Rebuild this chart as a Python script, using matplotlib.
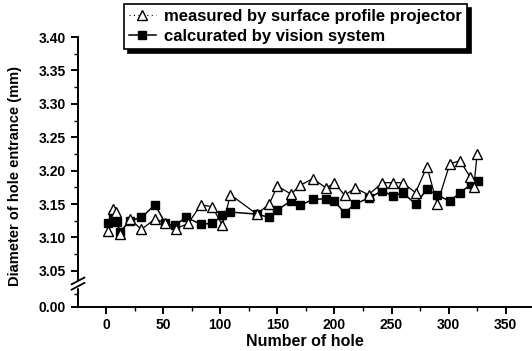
import matplotlib
matplotlib.use("Agg")
import matplotlib.pyplot as plt
from matplotlib.ticker import MultipleLocator, FixedLocator
from matplotlib.lines import Line2D

# Hole diameters measured with the surface profile projector
measured_x = [2, 6, 9, 12, 21, 31, 43, 52, 61, 72, 83, 93, 102, 109, 132,
              143, 150, 162, 170, 181, 193, 200, 209, 218, 230, 242, 251,
              260, 271, 281, 290, 301, 310, 319, 322, 325]
measured_y = [3.110, 3.143, 3.138, 3.105, 3.128, 3.112, 3.128, 3.121, 3.113,
              3.121, 3.149, 3.146, 3.118, 3.164, 3.135, 3.150, 3.177, 3.165,
              3.178, 3.188, 3.174, 3.182, 3.163, 3.174, 3.164, 3.182, 3.182,
              3.182, 3.167, 3.206, 3.150, 3.210, 3.215, 3.190, 3.175, 3.225]

# Hole diameters calculated by the vision system
calc_x = [2, 6, 10, 12, 21, 31, 43, 52, 60, 70, 83, 93, 102, 109, 132,
          143, 150, 162, 170, 181, 193, 200, 209, 218, 230, 242, 251,
          260, 271, 281, 290, 301, 310, 320, 326]
calc_y = [3.121, 3.133, 3.123, 3.108, 3.125, 3.130, 3.149, 3.121, 3.118,
          3.130, 3.120, 3.121, 3.133, 3.138, 3.135, 3.130, 3.141, 3.155,
          3.148, 3.157, 3.158, 3.154, 3.137, 3.150, 3.159, 3.170, 3.162,
          3.167, 3.150, 3.172, 3.164, 3.154, 3.167, 3.180, 3.184]

x_major = [0, 50, 100, 150, 200, 250, 300, 350]
y_major = [3.05, 3.10, 3.15, 3.20, 3.25, 3.30, 3.35, 3.40]
y_zero_pos = 2.996  # position on the broken axis where 0.00 is shown

plt.rcParams['font.family'] = ['Liberation Sans', 'DejaVu Sans']
plt.rcParams['font.weight'] = 'bold'

fig = plt.figure(figsize=(5.32, 3.51), dpi=100)
ax = fig.add_axes([78 / 532, 1 - 307 / 351, 1 - 78 / 532, (307 - 37) / 351])

ax.plot(measured_x, measured_y, color='black', lw=0.9, marker='^',
        markersize=6.5, markerfacecolor='white', markeredgecolor='black',
        markeredgewidth=1.0, zorder=3)
ax.plot(calc_x, calc_y, color='black', lw=1.1, marker='s',
        markersize=5.5, markerfacecolor='black', markeredgecolor='black',
        zorder=2)

ax.set_xlim(-24.5, 373)
ax.set_ylim(y_zero_pos, 3.40)

for s in ('top', 'right'):
    ax.spines[s].set_visible(False)
for s in ('left', 'bottom'):
    ax.spines[s].set_linewidth(1.4)

ax.xaxis.set_major_locator(FixedLocator(x_major))
ax.xaxis.set_minor_locator(MultipleLocator(25))
ax.set_xticklabels([str(v) for v in x_major])

ax.yaxis.set_major_locator(FixedLocator([y_zero_pos] + y_major))
ax.yaxis.set_minor_locator(FixedLocator([3.016] + [v + 0.025 for v in y_major[:-1]]))
ax.set_yticklabels(['0.00'] + [f'{v:.2f}' for v in y_major])

ax.tick_params(axis='both', which='major', direction='out', length=5,
               width=1.4, labelsize=10)
ax.tick_params(axis='both', which='minor', direction='out', length=3,
               width=1.0)
ax.tick_params(axis='x', pad=3)
ax.tick_params(axis='y', pad=4)
for lab in ax.get_xticklabels() + ax.get_yticklabels():
    lab.set_fontweight('bold')

ax.set_xlabel('Number of hole', fontsize=11.5, fontweight='bold', labelpad=1)
fig.text(0.028, 0.50, 'Diameter of hole entrance (mm)', rotation=90,
         ha='center', va='center', fontsize=10.5, fontweight='bold')

# Axis break marks on the y spine
trans = ax.get_yaxis_transform()
for yb in (3.027, 3.035):
    ax.plot([-0.014, 0.014], [yb - 0.005, yb + 0.005], transform=trans,
            color='black', lw=1.3, clip_on=False, zorder=5)
ax.plot([0, 0], [3.028, 3.034], transform=trans, color='white', lw=2.5,
        clip_on=False, zorder=4)

# Legend with a solid drop shadow
handles = [
    Line2D([], [], color='black', lw=0.8, ls=(0, (1, 3)), marker='^',
           markersize=6.5, markerfacecolor='white', markeredgecolor='black'),
    Line2D([], [], color='black', lw=1.1, marker='s', markersize=5.5,
           markerfacecolor='black'),
]
leg = fig.legend(handles,
                 ['measured by surface profile projector',
                  'calcurated by vision system'],
                 loc='upper left', bbox_to_anchor=(124 / 532, 1 - 4 / 351),
                 frameon=True, fancybox=False,
                 shadow={'color': 'black', 'alpha': 1.0, 'ox': 3, 'oy': -3},
                 prop={'size': 12, 'weight': 'bold'},
                 handlelength=1.6, handletextpad=0.5, borderpad=0.3,
                 labelspacing=0.3, borderaxespad=0)
leg.get_frame().set_edgecolor('black')
leg.get_frame().set_linewidth(1.2)

fig.savefig('out.png', dpi=100)
